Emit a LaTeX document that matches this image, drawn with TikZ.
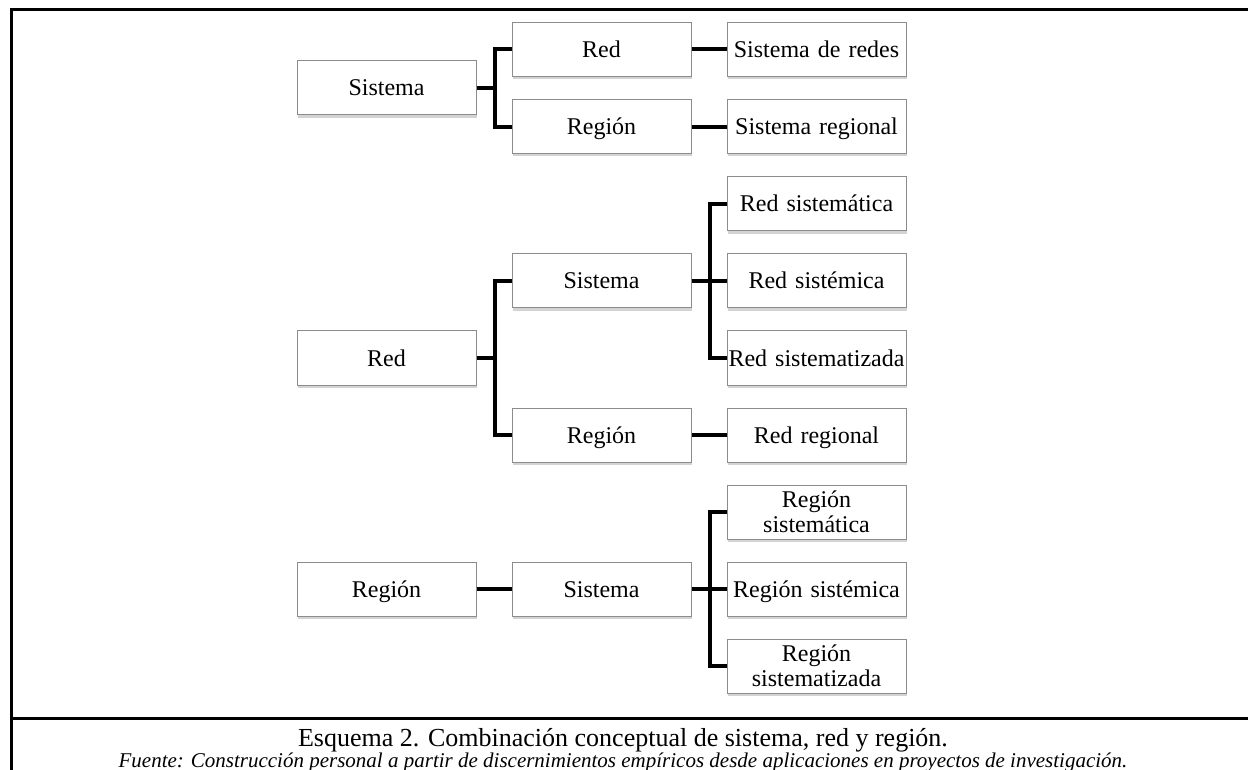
\documentclass[tikz,border=0pt]{standalone}
\usepackage{fontspec}
\setmainfont{Liberation Serif}
\usetikzlibrary{shadows}

\begin{document}
\begin{tikzpicture}[
				x=0.5pt, y=-0.5pt,
				grow'=right,
				level distance=107.5pt,
				level 2/.style={sibling distance=38.5pt},
				box/.style={draw=black!45, line width=0.5pt, fill=white, text width=89.5pt, inner sep=0pt, minimum height=27pt, align=center, font=\fontsize{12}{12.5}\selectfont, execute at begin node={\rule{0pt}{11pt}}, execute at end node={\rule[-3pt]{0pt}{3pt}}, drop shadow={shadow xshift=0.4pt, shadow yshift=-1.3pt, opacity=0.35}},
				every child node/.style={box},
				edge from parent/.style={draw, line width=2pt},
				edge from parent path={(\tikzparentnode.east) -- +(9pt,0) |- (\tikzchildnode.west)}]
				
				\useasboundingbox (0,0) rectangle (1248,770);
				\draw[line width=1.5pt] (1248,10) -- (11.5,10) -- (11.5,770);
				\draw[line width=1.5pt] (11.5,718.5) -- (1248,718.5);
				
				\begin{scope}[shift={(386.5,88)}, level 1/.style={sibling distance=38.75pt}]
					\node[box] (sistema) {Sistema}
					child {node (sisred) {Red}
						child {node (sisredes) {Sistema de redes}}}
					child {node (sisregion) {Región}
						child {node (sisregional) {Sistema regional}}};
				\end{scope}
				
				\begin{scope}[shift={(386.5,358)}, level 1/.style={sibling distance=77pt}]
					\node[box] (red) {Red}
					child {node (redsistema) {Sistema}
						child {node (redsistematica) {Red sistemática}}
						child {node (redsistemica) {Red sistémica}}
						child {node (redsistematizada) {Red sistematizada}}}
					child {node (redregion) {Región}
						child {node (redregional) {Red regional}}};
				\end{scope}
				
				\begin{scope}[shift={(386.5,589)}]
					\node[box] (region) {Región}
					child {node (regsistema) {Sistema}
						child {node (regsistematica) {Región\\sistemática}}
						child {node (regsistemica) {Región sistémica}}
						child {node (regsistematizada) {Región\\sistematizada}}};
				\end{scope}
				
				\node[anchor=base, font=\fontsize{13}{15}\selectfont] (esquema) at (623,746)
				{Esquema 2. Combinación conceptual de sistema, red y región.};
				\node[anchor=base, font=\fontsize{10.5}{12}\selectfont\itshape] (fuente) at (623,767)
				{Fuente: Construcción personal a partir de discernimientos empíricos desde aplicaciones en proyectos de investigación.};
			\end{tikzpicture}
\end{document}
